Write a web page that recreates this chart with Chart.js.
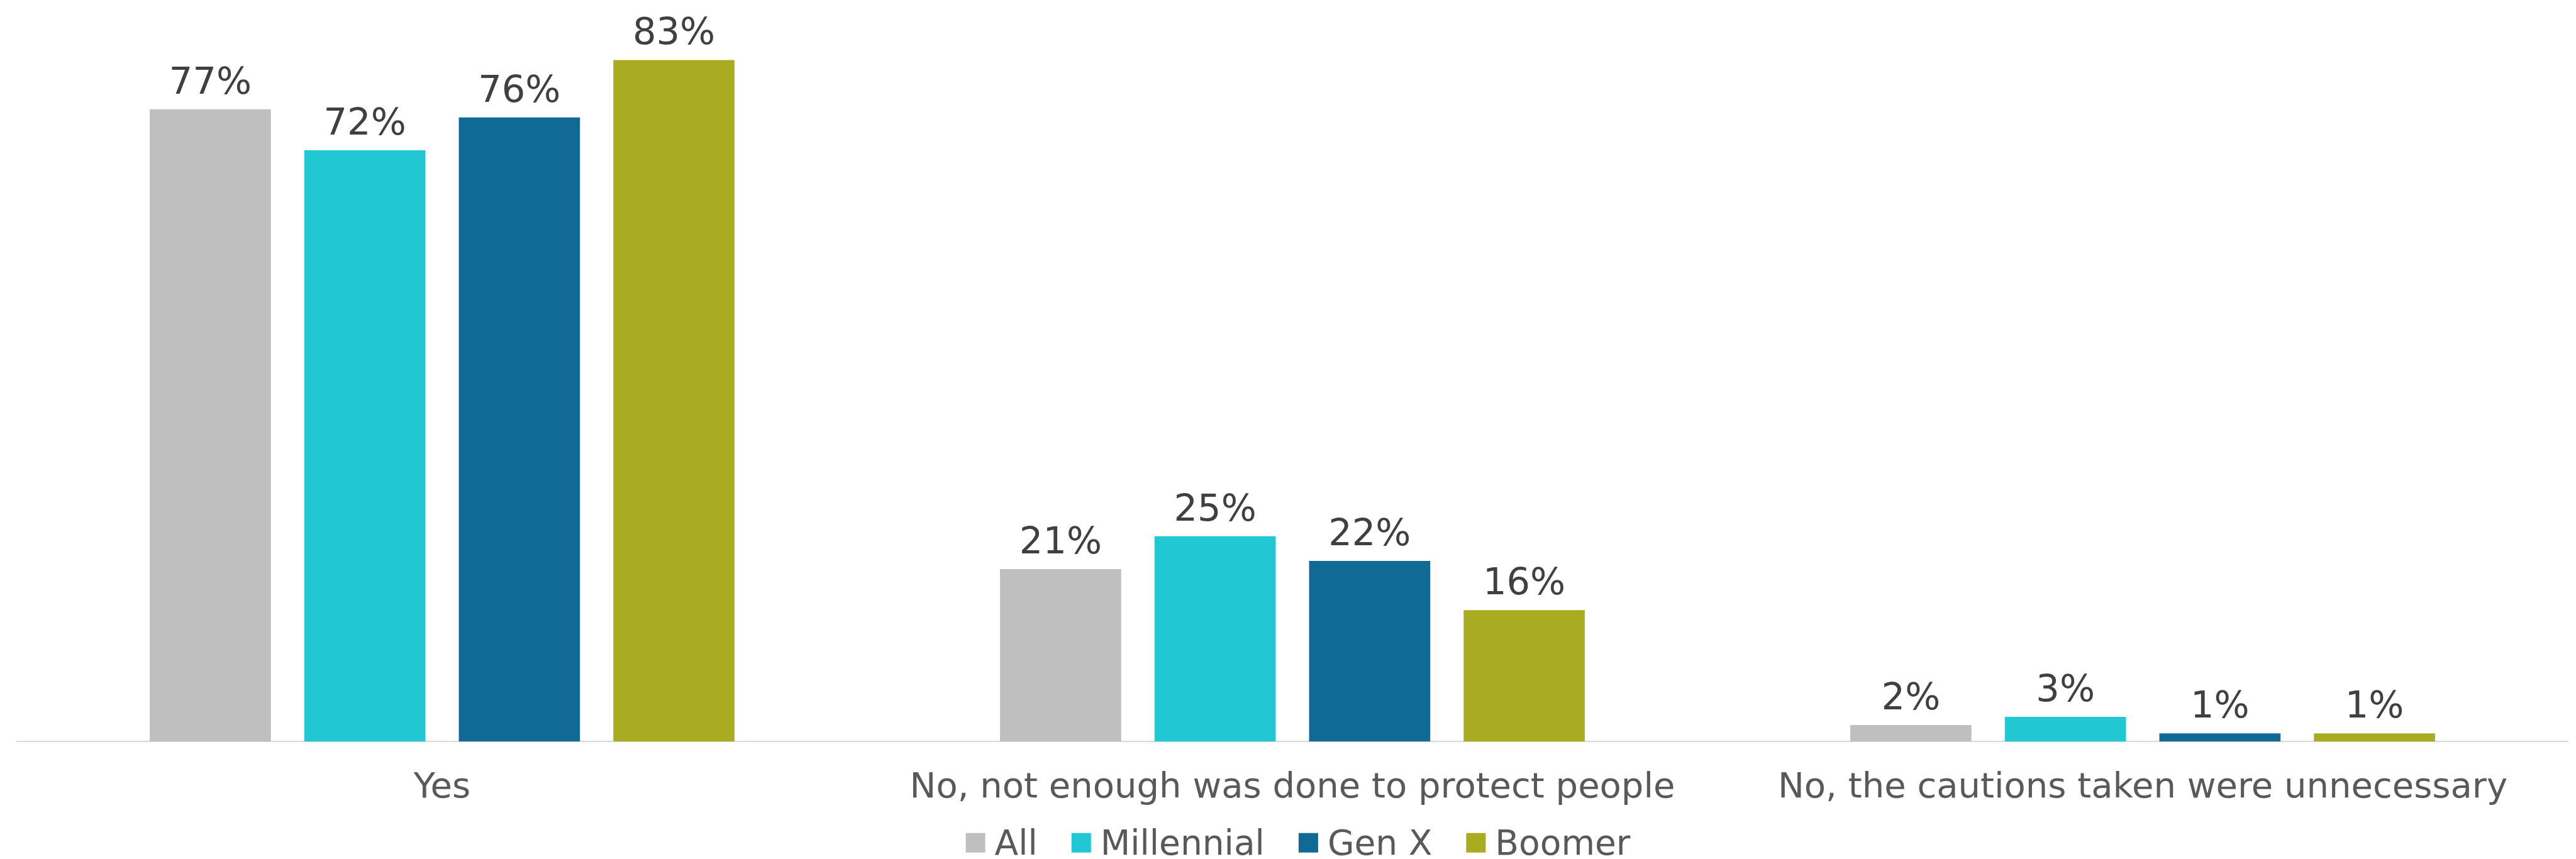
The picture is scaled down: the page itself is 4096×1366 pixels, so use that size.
<!DOCTYPE html>
<html>
<head>
<meta charset="utf-8">
<script src="https://cdn.jsdelivr.net/npm/chart.js@4.4.1/dist/chart.umd.min.js"></script>
<style>
  html, body { margin: 0; padding: 0; background: #fff; }
  #wrap { width: 4096px; height: 1366px; position: relative; }
</style>
</head>
<body>
<div id="wrap"><canvas id="answers"></canvas></div>
<script>
const categories = ['Yes', 'No, not enough was done to protect people', 'No, the cautions taken were unnecessary'];
const seriesNames = ['All', 'Millennial', 'Gen X', 'Boomer'];
const allValues = [77, 21, 2];
const millennialValues = [72, 25, 3];
const genXValues = [76, 22, 1];
const boomerValues = [83, 16, 1];
const seriesColors = ['#bfbfbf', '#21c8d4', '#116a96', '#a9ac20'];

// percent labels above every bar
const barValueLabels = {
  id: 'barValueLabels',
  afterDatasetsDraw(chart) {
    const ctx = chart.ctx;
    ctx.save();
    ctx.font = '59px "DejaVu Sans"';
    ctx.fillStyle = '#404040';
    ctx.textAlign = 'center';
    ctx.textBaseline = 'alphabetic';
    chart.data.datasets.forEach((ds, i) => {
      chart.getDatasetMeta(i).data.forEach((bar, j) => {
        ctx.fillText(ds.data[j] + '%', bar.x, bar.y - 25);
      });
    });
    ctx.restore();
  },
};

// one-row legend under the category labels, tighter box/text gap than the stock one
const bottomLegend = {
  id: 'bottomLegend',
  afterDraw(chart) {
    const ctx = chart.ctx;
    const box = 31;
    const textGap = 15;
    const itemGap = 54;
    ctx.save();
    ctx.font = '55px "DejaVu Sans"';
    ctx.textBaseline = 'alphabetic';
    ctx.textAlign = 'left';
    const items = chart.data.datasets.map((ds) => ({
      text: ds.label,
      color: ds.backgroundColor,
      width: ctx.measureText(ds.label).width,
    }));
    const total = items.reduce((sum, it) => sum + box + textGap + it.width, 0) + itemGap * (items.length - 1);
    const area = chart.chartArea;
    let x = (area.left + area.right) / 2 + 9 - total / 2;
    const baseline = area.bottom + 180;
    items.forEach((it) => {
      ctx.fillStyle = it.color;
      ctx.fillRect(x, baseline - 34.5, box, box);
      ctx.fillStyle = '#595959';
      ctx.fillText(it.text, x + box + textGap, baseline);
      x += box + textGap + it.width + itemGap;
    });
    ctx.restore();
  },
};

document.addEventListener('DOMContentLoaded', () => {
  Chart.defaults.font.family = '"DejaVu Sans"';
  const valueSets = [allValues, millennialValues, genXValues, boomerValues];

  const ctx = document.getElementById('answers').getContext('2d');
  // eslint-disable-next-line no-new
  new Chart(ctx, {
    type: 'bar',
    data: {
      labels: categories,
      datasets: seriesNames.map((name, i) => ({
        label: name,
        data: valueSets[i],
        backgroundColor: seriesColors[i],
        categoryPercentage: 0.727,
        barPercentage: 0.784,
      })),
    },
    options: {
      responsive: true,
      maintainAspectRatio: false,
      animation: false,
      layout: {
        padding: { top: 4, left: 27, right: 13, bottom: 37.8 },
      },
      scales: {
        x: {
          grid: { display: false, drawTicks: false },
          border: { display: true, color: '#d9d9d9', width: 2 },
          ticks: {
            color: '#595959',
            padding: 52.5,
            font: { size: 56, lineHeight: '44px' },
            maxRotation: 0,
          },
        },
        y: {
          display: false,
          min: 0,
          max: 90,
        },
      },
      plugins: {
        legend: { display: false },
        tooltip: { enabled: false },
      },
    },
    plugins: [barValueLabels, bottomLegend],
  });
});
</script>
</body>
</html>
